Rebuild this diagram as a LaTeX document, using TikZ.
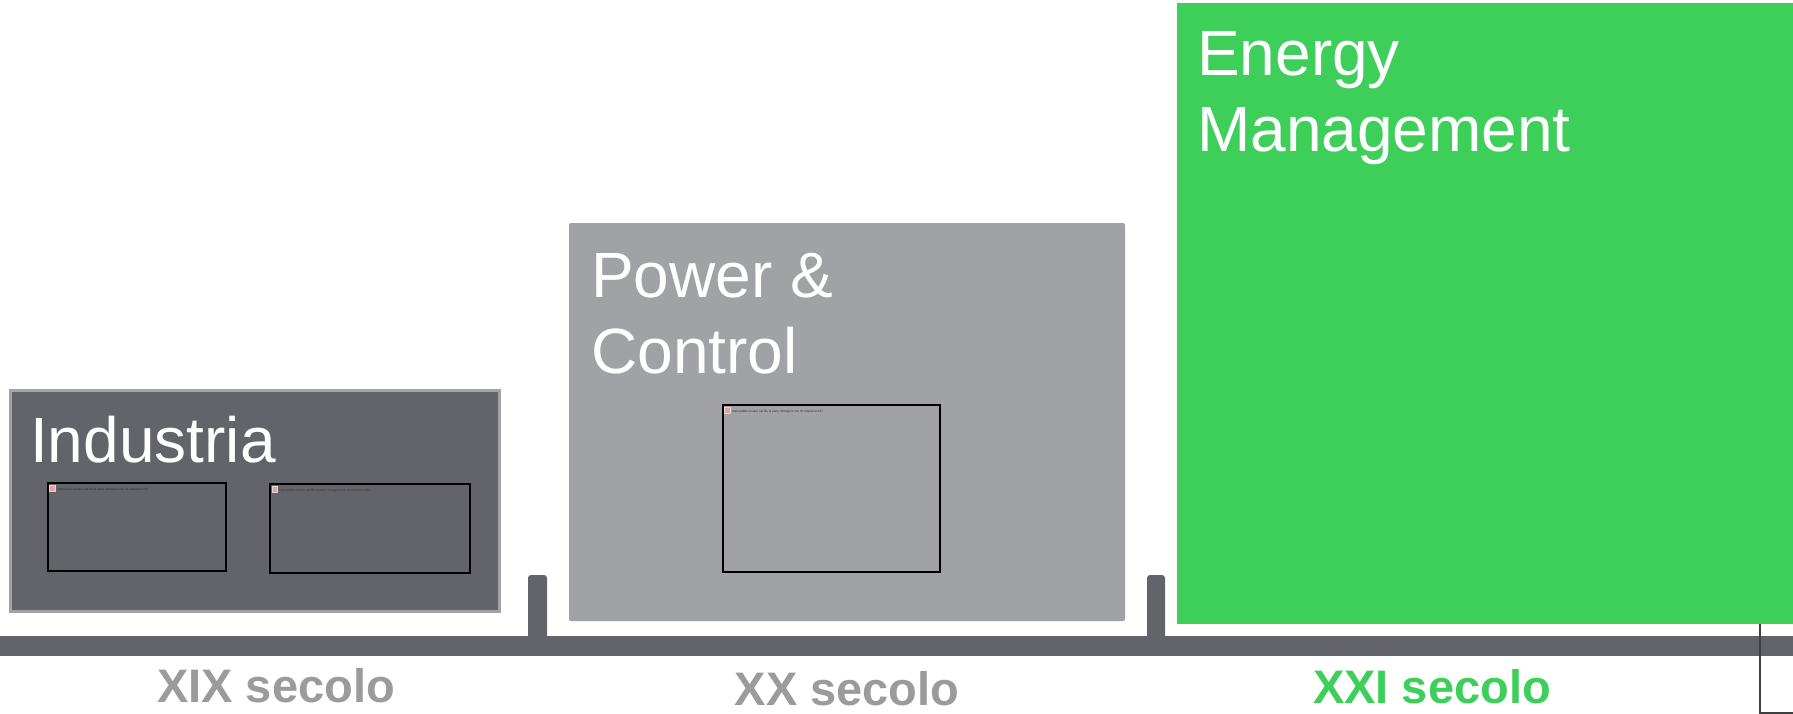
\documentclass[tikz,border=0pt]{standalone}
\usepackage{fontspec}
\setmainfont{Liberation Sans}
\definecolor{darkg}{HTML}{636469}
\definecolor{lightg}{HTML}{A1A2A5}
\definecolor{bordg}{HTML}{A3A3A6}
\definecolor{greenE}{HTML}{3ECF5A}
\definecolor{labg}{HTML}{9B9B9B}
\definecolor{iconred}{HTML}{E9A0A0}
\tikzset{
  title/.style={anchor=base west, inner sep=0pt, text=white, font=\fontsize{64}{76}\selectfont},
  era/.style={anchor=base, inner sep=0pt, text depth=0pt, font=\fontsize{47}{56}\selectfont\bfseries},
  imgbox/.style={draw=black, line width=1.2pt},
  tickbar/.style={fill=darkg, rounded corners=3pt},
  msg/.style={anchor=base west, inner sep=0pt, text=black!80, font=\fontsize{3.1}{3.5}\selectfont},
  icon/.style={fill=iconred, draw=white!70!gray, line width=0.3pt}
}
\begin{document}
\begin{tikzpicture}[x=1pt,y=-1pt]
\useasboundingbox (0,0) rectangle (1793,714);
% era boxes
\draw[draw=bordg, line width=3pt, fill=darkg] (10,390) rectangle (499,611);
\fill[lightg, rounded corners=2pt] (569,223) rectangle (1125,621);
\fill[greenE] (1177,3) rectangle (1793,624);
% ticks and axis
\fill[tickbar] (528,575) rectangle (547,648);
\fill[tickbar] (1147,575) rectangle (1165,648);
\fill[darkg] (0,636) rectangle (1793,656);
% thin frame at right bottom
\coordinate (f1) at (1760,624);
\coordinate (f2) at (1760,713);
\coordinate (f3) at (1793,713);
\draw[black!75, line width=1.3pt] (f1) -- (f2) -- (f3);
% image placeholders
\draw[imgbox] (48,483) rectangle (226,571);
\fill[icon] (49.5,485) rectangle (55,491);
\node[msg] (m1) at (57,490) {Impossibile trovare nel file la parte immagine con ID relazione rId5.};
\draw[imgbox] (270,484) rectangle (470,573);
\fill[icon] (272,486) rectangle (277.5,492);
\node[msg] (m2) at (279,491) {Impossibile trovare nel file la parte immagine con ID relazione rId6.};
\draw[imgbox] (723,405) rectangle (940,572);
\fill[icon] (724.5,407) rectangle (730,413);
\node[msg] (m3) at (732,412) {Impossibile trovare nel file la parte immagine con ID relazione rId7.};
% titles
\node[title] (t1) at (30,462) {Industria};
\node[title] (t2a) at (591,297) {Power \&};
\node[title] (t2b) at (591,373) {Control};
\node[title] (t3a) at (1197,76) {Energy};
\node[title] (t3b) at (1197,152) {Management};
% era labels
\node[era, text=labg] (e1) at (276,702) {XIX secolo};
\node[era, text=labg] (e2) at (847,705) {XX secolo};
\node[era, text=greenE] (e3) at (1432,703) {XXI secolo};
\end{tikzpicture}
\end{document}
